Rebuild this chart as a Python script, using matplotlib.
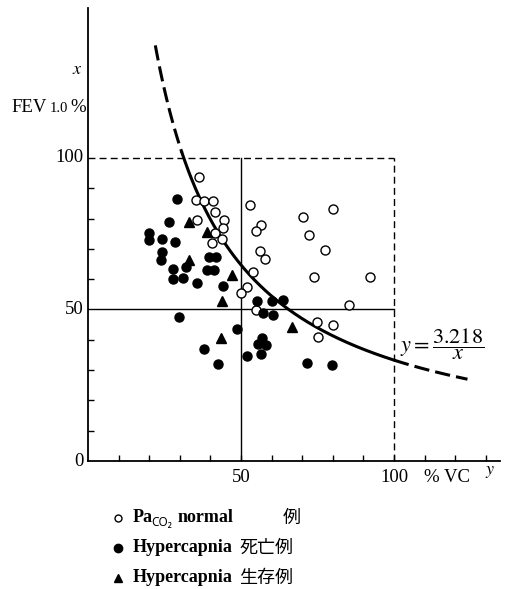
import numpy as np
import matplotlib
matplotlib.use("Agg")
import matplotlib.pyplot as plt
from matplotlib.lines import Line2D

plt.rcParams['font.family'] = ['Liberation Serif', 'Noto Sans CJK JP']
plt.rcParams['mathtext.fontset'] = 'stix'

# Pa_CO2 normal (open circles)
normal_vc = [36.3, 35.3, 37.9, 40.8, 41.5, 44.4, 35.6, 44.1, 41.5, 43.8, 40.5,
             52.9, 56.5, 54.9, 56.2, 57.8, 53.9, 52.0, 50.0, 54.9,
             70.3, 80.1, 72.2, 77.5, 73.9, 92.2, 85.3, 74.8, 80.1, 75.2]
normal_fev = [93.7, 86.1, 85.8, 85.8, 82.2, 79.5, 79.5, 76.9, 75.2, 73.3, 71.9,
              84.5, 77.9, 75.9, 69.3, 66.7, 62.4, 57.4, 55.4, 49.8,
              80.5, 83.2, 74.6, 69.6, 60.7, 60.7, 51.5, 45.9, 44.9, 40.9]

# Hypercapnia, died (filled circles)
died_vc = [29.1, 26.5, 19.9, 19.9, 24.2, 28.4, 24.2, 23.9, 39.5, 41.8, 27.8, 32.0,
           38.9, 41.2, 27.8, 31.0, 35.6, 44.1, 55.2, 60.1, 63.7, 57.2, 60.5, 29.7,
           48.7, 56.9, 55.6, 58.2, 37.9, 52.0, 56.5, 42.5, 71.6, 79.7]
died_fev = [86.5, 78.9, 75.2, 72.9, 73.3, 72.3, 69.0, 66.3, 67.3, 67.3, 63.4, 64.0,
            63.0, 63.0, 60.1, 60.4, 58.7, 57.8, 52.8, 52.8, 53.1, 48.8, 48.2, 47.5,
            43.6, 40.6, 38.6, 38.3, 37.0, 34.7, 35.3, 32.0, 32.3, 31.7]

# Hypercapnia, survived (triangles)
surv_vc = [33.0, 38.9, 33.0, 47.1, 43.8, 66.7, 43.5]
surv_fev = [78.9, 75.6, 66.3, 61.4, 52.8, 44.2, 40.6]

# hyperbola as drawn in the picture (labelled y = 3.218/x)
curve_k = 3429.0
curve_shift = 3.0

W, H = 507, 589
fig = plt.figure(figsize=(W / 100, H / 100), dpi=100)
ax = fig.add_axes([88 / W, (H - 461) / H, 411.6 / W, 453 / H])
ax.set_xlim(0, 134.5)
ax.set_ylim(0, 149.5)
for s in ['top', 'right']:
    ax.spines[s].set_visible(False)
for s in ['left', 'bottom']:
    ax.spines[s].set_linewidth(1.3)

ax.set_xticks(np.arange(10, 140, 10))
ax.set_yticks([10, 20, 30, 40, 60, 70, 80, 90])
ax.set_xticklabels([])
ax.set_yticklabels([])
ax.tick_params(direction='in', length=4, width=1)

# reference box and cross lines
ax.plot([0, 100], [100, 100], 'k--', lw=1, dashes=(5, 3))
ax.plot([100, 100], [0, 100], 'k--', lw=1, dashes=(5, 3))
ax.plot([50, 50], [0, 100], 'k-', lw=1)
ax.plot([0, 100], [50, 50], 'k-', lw=1)

def hyp(x):
    return curve_k / (x + curve_shift)

x1 = np.linspace(22.0, 30.7, 50)
x2 = np.linspace(30.7, 100, 200)
x3 = np.linspace(100, 124, 80)
ax.plot(x1, hyp(x1), 'k-', lw=2.2, dashes=(5, 2))
ax.plot(x2, hyp(x2), 'k-', lw=2.2)
ax.plot(x3, hyp(x3), 'k-', lw=2.2, dashes=(5, 2))

ax.plot(normal_vc, normal_fev, 'o', ms=6.5, mfc='white', mec='black', mew=1.0, ls='none')
ax.plot(died_vc, died_fev, 'o', ms=6.5, mfc='black', mec='black', ls='none')
ax.plot(surv_vc, surv_fev, '^', ms=7, mfc='black', mec='black', ls='none')

def ftext(x, y, s, **kw):
    fig.text(x / W, 1 - y / H, s, **kw)

# axis labels
fs = 13.5
ftext(84, 461, '0', fontsize=fs, ha='right', va='center')
ftext(84, 309, '50', fontsize=fs, ha='right', va='center')
ftext(84, 158, '100', fontsize=fs, ha='right', va='center')
ftext(241, 477, '50', fontsize=fs, ha='center', va='center')
ftext(394, 477, '100', fontsize=fs, ha='center', va='center')
ftext(424, 477, '% VC', fontsize=fs, ha='left', va='center')
ftext(490, 472, '$y$', fontsize=13, ha='center', va='center')
ftext(77, 70, '$x$', fontsize=13, ha='center', va='center')
ftext(11, 112, 'FEV', fontsize=fs, ha='left', va='baseline')
ftext(50, 112, '1.0', fontsize=10.5, ha='left', va='baseline')
ftext(70, 112, '%', fontsize=fs, ha='left', va='baseline')

# equation label
ftext(400, 344, r'$y=\dfrac{3.218}{x}$', fontsize=16, ha='left', va='center')

# legend below the plot
marker_x = 118
rows = [518, 548, 578]
fig.add_artist(Line2D([marker_x / W], [1 - rows[0] / H], marker='o', ms=5,
                      mfc='white', mec='black', mew=1.0, ls='none'))
fig.add_artist(Line2D([marker_x / W], [1 - rows[1] / H], marker='o', ms=6,
                      mfc='black', mec='black', ls='none'))
fig.add_artist(Line2D([marker_x / W], [1 - rows[2] / H], marker='^', ms=6,
                      mfc='black', mec='black', ls='none'))
lfs = 13
cfs = 13
ftext(133, rows[0], 'Pa', fontsize=lfs, weight='bold', ha='left', va='center')
ftext(151, rows[0] + 4, 'CO\u2082', fontsize=8.5, weight='bold', ha='left', va='center',
      family=['Noto Sans', 'DejaVu Sans'])
ftext(178, rows[0], 'normal', fontsize=lfs, weight='bold', ha='left', va='center')
ftext(283, rows[0], '例', fontsize=cfs, ha='left', va='center', family=['Noto Sans CJK JP'])
ftext(133, rows[1], 'Hypercapnia', fontsize=lfs, weight='bold', ha='left', va='center')
ftext(239, rows[1], '死亡例', fontsize=cfs, ha='left', va='center', family=['Noto Sans CJK JP'])
ftext(133, rows[2], 'Hypercapnia', fontsize=lfs, weight='bold', ha='left', va='center')
ftext(239, rows[2], '生存例', fontsize=cfs, ha='left', va='center', family=['Noto Sans CJK JP'])

fig.savefig('out.png', dpi=100)
